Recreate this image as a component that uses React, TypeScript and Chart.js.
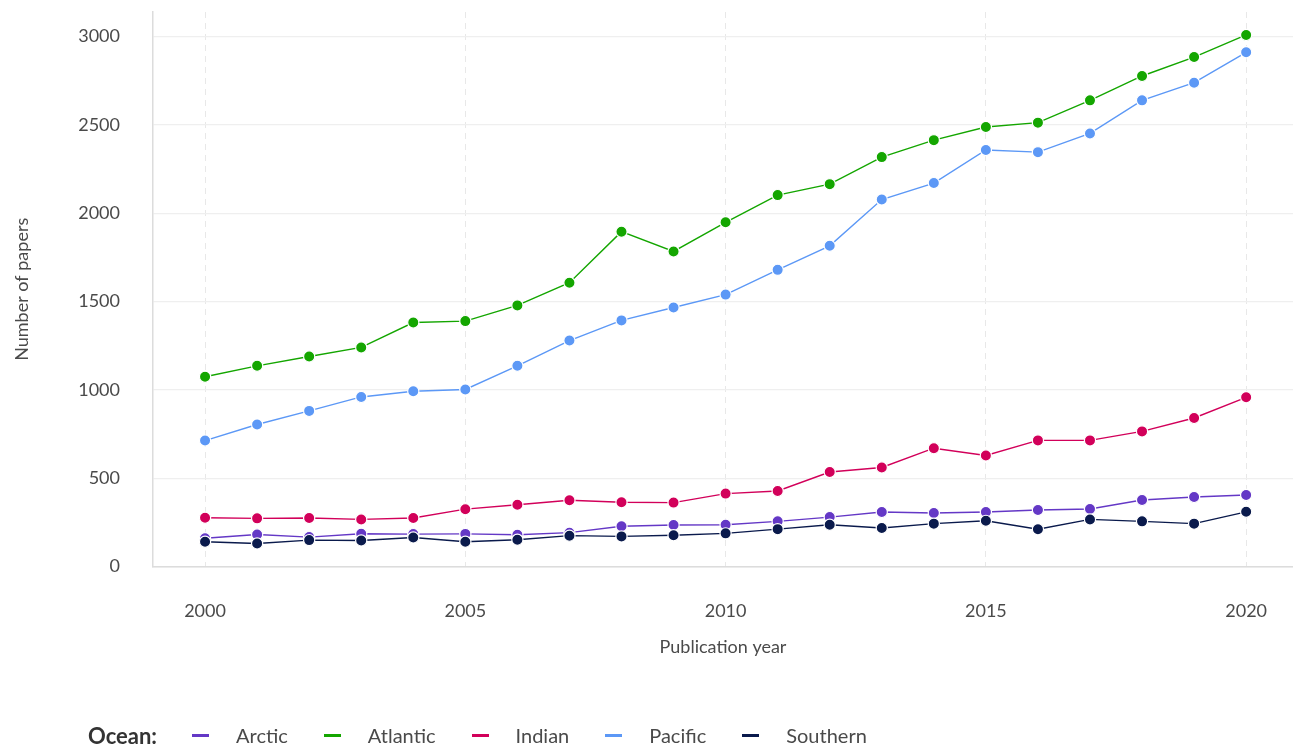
import React, { useEffect, useRef } from "react";
import { Chart, registerables } from "chart.js";

Chart.register(...registerables);

const years = [2000, 2001, 2002, 2003, 2004, 2005, 2006, 2007, 2008, 2009, 2010, 2011, 2012, 2013, 2014, 2015, 2016, 2017, 2018, 2019, 2020];

const arctic = [160, 182, 167, 186, 184, 185, 180, 192, 228, 235, 237, 256, 280, 309, 303, 309, 320, 326, 377, 394, 405];
const atlantic = [1074, 1136, 1189, 1240, 1381, 1389, 1478, 1606, 1895, 1783, 1948, 2102, 2164, 2317, 2413, 2487, 2512, 2638, 2776, 2883, 3008];
const indian = [276, 273, 275, 267, 275, 325, 350, 375, 364, 362, 413, 428, 535, 561, 670, 629, 714, 714, 765, 841, 958];
const pacific = [713, 804, 881, 960, 992, 1002, 1136, 1279, 1393, 1466, 1539, 1679, 1815, 2077, 2170, 2357, 2345, 2451, 2638, 2738, 2910];
const southern = [141, 131, 150, 148, 165, 141, 152, 175, 171, 177, 188, 212, 237, 218, 243, 259, 211, 267, 256, 243, 310];

const seriesNames = ["Arctic", "Atlantic", "Indian", "Pacific", "Southern"];
const seriesValues = [arctic, atlantic, indian, pacific, southern];
const seriesColors = ["#6438c6", "#14a600", "#d2005a", "#5c98f6", "#0a1a4c"];

const xTicks = [2000, 2005, 2010, 2015, 2020];
const yTicks = [0, 500, 1000, 1500, 2000, 2500, 3000];

const FONT = "Lato, 'Noto Sans', sans-serif";
const TEXT = "#4a4a4a";

export default function App() {
  const ref = useRef<HTMLCanvasElement | null>(null);

  useEffect(() => {
    const canvas = ref.current;
    if (!canvas) return;
    const chart = new Chart(canvas, {
      type: "line",
      data: {
        datasets: seriesNames.map((name, i) => ({
          label: name,
          data: years.map((y, j) => ({ x: y, y: seriesValues[i][j] })),
          borderColor: seriesColors[i],
          backgroundColor: seriesColors[i],
          pointBackgroundColor: seriesColors[i],
          pointBorderColor: "#ffffff",
          pointBorderWidth: 1.2,
          pointRadius: 5.6,
          borderWidth: 1.4,
          tension: 0,
          order: seriesNames.length - i,
        })),
      },
      options: {
        responsive: false,
        animation: false,
        layout: { autoPadding: false, padding: { top: 12, left: 0, right: 0, bottom: 0 } },
        plugins: {
          legend: { display: false },
          tooltip: { enabled: false },
        },
        scales: {
          x: {
            type: "linear",
            min: 1999,
            max: 2020.9,
            afterBuildTicks: (scale: any) => {
              scale.ticks = xTicks.map((v) => ({ value: v }));
            },
            afterFit: (scale: any) => {
              scale.height = 744 - 566.6;
            },
            grid: { color: "#e8e8e8", lineWidth: 1, drawTicks: true, tickLength: 34, tickColor: "rgba(0,0,0,0)" },
            border: { color: "#dcdcdc", width: 1.5, dash: [6, 5] },
            ticks: {
              color: TEXT,
              font: { family: FONT, size: 18 },
              padding: 0,
              maxRotation: 0,
              callback: (v: any) => String(v),
            },
            title: {
              display: true,
              text: "Publication year",
              color: TEXT,
              font: { family: FONT, size: 18 },
              padding: { top: 0, bottom: 86 },
            },
          },
          y: {
            type: "linear",
            min: 0,
            max: 3138,
            afterBuildTicks: (scale: any) => {
              scale.ticks = yTicks.map((v) => ({ value: v }));
            },
            afterFit: (scale: any) => {
              scale.width = 153;
            },
            grid: { color: "#efefef", lineWidth: 1.2, drawTicks: true, tickLength: 33, tickColor: "rgba(0,0,0,0)" },
            border: { color: "#dcdcdc", width: 1.5 },
            ticks: {
              color: TEXT,
              font: { family: FONT, size: 18 },
              padding: 0,
              callback: (v: any) => String(v),
            },
            title: {
              display: true,
              text: "Number of papers",
              color: TEXT,
              font: { family: FONT, size: 18 },
              padding: { top: 11, bottom: 0 },
            },
          },
        },
      },
    });
    return () => chart.destroy();
  }, []);

  return (
    <div style={{ position: "fixed", left: 0, top: 0, width: 1293, height: 744, background: "#fff", overflow: "hidden" }}>
      <canvas ref={ref} width={1293} height={744} style={{ position: "absolute", left: 0, top: 0, width: 1293, height: 744 }} />
      <div
        style={{
          position: "absolute",
          left: 88,
          top: 722,
          height: 26,
          display: "flex",
          alignItems: "center",
          fontFamily: FONT,
          fontSize: 20,
          color: TEXT,
          whiteSpace: "nowrap",
        }}
      >
        <span style={{ fontWeight: 700, color: "#333", fontSize: 22, marginRight: 35 }}>Ocean:</span>
        {seriesNames.map((name, i) => (
          <span key={name} style={{ display: "flex", alignItems: "center", marginRight: 36 }}>
            <span style={{ display: "inline-block", width: 17, height: 3, background: seriesColors[i], marginRight: 27 }} />
            <span>{name}</span>
          </span>
        ))}
      </div>
    </div>
  );
}
